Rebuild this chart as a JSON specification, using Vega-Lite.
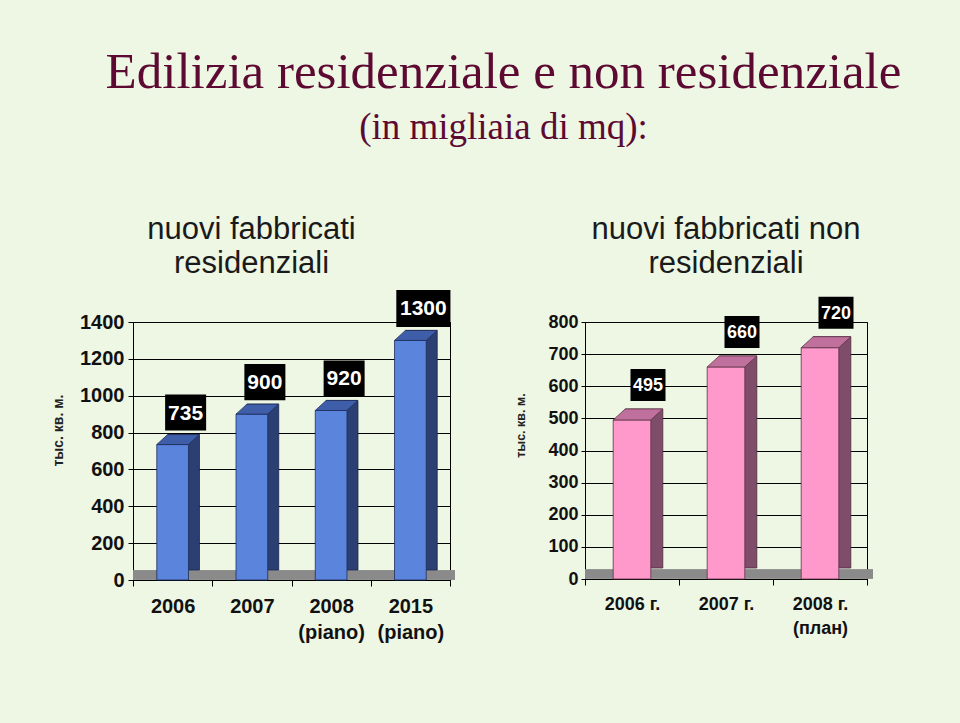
{
  "$schema": "https://vega.github.io/schema/vega-lite/v6.json",
  "background": "#eef6e4",
  "padding": {"left": 51, "top": 47, "right": 85, "bottom": 88},
  "title": {
    "text": "Edilizia residenziale e non residenziale",
    "subtitle": "(in migliaia di mq):",
    "font": "Liberation Serif",
    "fontSize": 51,
    "fontWeight": "normal",
    "color": "#5c0a32",
    "subtitleFont": "Liberation Serif",
    "subtitleFontSize": 37,
    "subtitleColor": "#5c0a32",
    "subtitlePadding": 11,
    "anchor": "middle",
    "dx": 39,
    "offset": 66
  },
  "spacing": 54,
  "hconcat": [
    {
      "width": 317,
      "height": 258,
      "title": {
        "text": ["nuovi fabbricati", "residenziali"],
        "font": "Liberation Sans",
        "fontSize": 31,
        "fontWeight": "normal",
        "color": "#1a1a1a",
        "lineHeight": 34,
        "anchor": "middle",
        "dx": -40,
        "offset": 10
      },
      "data": {
        "values": [
          {"anno": "2006", "valore": 735},
          {"anno": "2007", "valore": 900},
          {"anno": "2008|(piano)", "valore": 920},
          {"anno": "2015|(piano)", "valore": 1300}
        ]
      },
      "layer": [
        {
          "mark": {"type": "rule", "color": "#8a8a8a", "strokeWidth": 9, "yOffset": -5, "xOffset": 5},
          "encoding": {
            "y": {"datum": 0, "type": "quantitative", "scale": {"domain": [0, 1400], "nice": false},
              "axis": {"title": "тыс. кв. м.", "values": [0, 200, 400, 600, 800, 1000, 1200, 1400], "tickCount": 20, "format": "d", "labelOverlap": false, "labelFontSize": 20, "labelFontWeight": "bold", "labelPadding": 4, "tickSize": 5, "titleFontSize": 14, "titleFontWeight": "bold", "titleColor": "#222222", "titlePadding": 14, "titleY": 108, "grid": true, "gridColor": "#000000", "gridOpacity": 1, "gridWidth": 1}}
          }
        },
        {
          "mark": {"type": "bar", "width": {"band": 0.4}, "xOffset": 11, "yOffset": -10, "color": "#2c3f73", "stroke": "#17244a", "strokeWidth": 0.8},
          "encoding": {
            "x": {"field": "anno", "type": "nominal", "sort": null, "scale": {"paddingInner": 0, "paddingOuter": 0},
              "axis": {"title": null, "labelExpr": "split(datum.label, '|')", "labelAngle": 0, "labelFontSize": 20, "labelFontWeight": "bold", "labelLineHeight": 26, "labelPadding": 10, "tickBand": "extent", "tickSize": 6, "grid": false}},
            "y": {"field": "valore", "type": "quantitative", "scale": {"domain": [0, 1400], "nice": false},
              "axis": {"title": "тыс. кв. м.", "values": [0, 200, 400, 600, 800, 1000, 1200, 1400], "tickCount": 20, "format": "d", "labelOverlap": false, "labelFontSize": 20, "labelFontWeight": "bold", "labelPadding": 4, "tickSize": 5, "titleFontSize": 14, "titleFontWeight": "bold", "titleColor": "#222222", "titlePadding": 14, "titleY": 108, "grid": true, "gridColor": "#000000", "gridOpacity": 1, "gridWidth": 1}}
          }
        },
        {
          "mark": {"type": "bar", "width": {"band": 0.4}, "color": "#5b84dc", "stroke": "#1e2d5a", "strokeWidth": 0.8},
          "encoding": {
            "x": {"field": "anno", "type": "nominal", "sort": null},
            "y": {"field": "valore", "type": "quantitative"}
          }
        },
        {
          "mark": {"type": "point", "filled": true, "opacity": 1, "size": 2704, "shape": "M-0.61,0L0.61,0L1.03,-0.385L-0.19,-0.385Z", "color": "#3f5ea9", "stroke": "#1e2d5a", "strokeWidth": 0.8},
          "encoding": {
            "x": {"field": "anno", "type": "nominal", "sort": null},
            "y": {"field": "valore", "type": "quantitative"}
          }
        },
        {
          "mark": {"type": "point", "filled": true, "opacity": 1, "size": 1681, "color": "#000000", "xOffset": 13, "yOffset": -32},
          "encoding": {
            "x": {"field": "anno", "type": "nominal", "sort": null},
            "y": {"field": "valore", "type": "quantitative"},
            "shape": {"condition": {"test": "datum.valore >= 1000", "value": "M-1.32,-0.9L1.32,-0.9L1.32,0.9L-1.32,0.9Z"}, "value": "M-1,-0.88L1,-0.88L1,0.88L-1,0.88Z"}
          }
        },
        {
          "mark": {"type": "text", "color": "#ffffff", "font": "Liberation Sans", "fontSize": 21, "fontWeight": "bold", "align": "center", "baseline": "middle", "xOffset": 13, "yOffset": -31},
          "encoding": {
            "x": {"field": "anno", "type": "nominal", "sort": null},
            "y": {"field": "valore", "type": "quantitative"},
            "text": {"field": "valore", "type": "quantitative"}
          }
        }
      ]
    },
    {
      "width": 282,
      "height": 257,
      "title": {
        "text": ["nuovi fabbricati non", "residenziali"],
        "font": "Liberation Sans",
        "fontSize": 31,
        "fontWeight": "normal",
        "color": "#1a1a1a",
        "lineHeight": 34,
        "anchor": "middle",
        "offset": 17
      },
      "data": {
        "values": [
          {"anno": "2006 г.", "valore": 495},
          {"anno": "2007 г.", "valore": 660},
          {"anno": "2008 г.|(план)", "valore": 720}
        ]
      },
      "layer": [
        {
          "mark": {"type": "rule", "color": "#8a8a8a", "strokeWidth": 9, "yOffset": -5, "xOffset": 6},
          "encoding": {
            "y": {"datum": 0, "type": "quantitative", "scale": {"domain": [0, 800], "nice": false},
              "axis": {"title": "тыс. кв. м.", "values": [0, 100, 200, 300, 400, 500, 600, 700, 800], "tickCount": 20, "format": "d", "labelOverlap": false, "labelFontSize": 18, "labelFontWeight": "bold", "labelPadding": 3, "tickSize": 4, "titleFontSize": 12.5, "titleFontWeight": "bold", "titleColor": "#222222", "titlePadding": 20, "titleY": 103, "grid": true, "gridColor": "#000000", "gridOpacity": 1, "gridWidth": 1}}
          }
        },
        {
          "mark": {"type": "bar", "width": {"band": 0.4}, "xOffset": 12, "yOffset": -11, "color": "#7f4c69", "stroke": "#4a2a3c", "strokeWidth": 0.8},
          "encoding": {
            "x": {"field": "anno", "type": "nominal", "sort": null, "scale": {"paddingInner": 0, "paddingOuter": 0},
              "axis": {"title": null, "labelExpr": "split(datum.label, '|')", "labelAngle": 0, "labelFontSize": 18, "labelFontWeight": "bold", "labelLineHeight": 24, "labelPadding": 10, "tickBand": "extent", "tickSize": 6, "grid": false}},
            "y": {"field": "valore", "type": "quantitative", "scale": {"domain": [0, 800], "nice": false},
              "axis": {"title": "тыс. кв. м.", "values": [0, 100, 200, 300, 400, 500, 600, 700, 800], "tickCount": 20, "format": "d", "labelOverlap": false, "labelFontSize": 18, "labelFontWeight": "bold", "labelPadding": 3, "tickSize": 4, "titleFontSize": 12.5, "titleFontWeight": "bold", "titleColor": "#222222", "titlePadding": 20, "titleY": 103, "grid": true, "gridColor": "#000000", "gridOpacity": 1, "gridWidth": 1}}
          }
        },
        {
          "mark": {"type": "bar", "width": {"band": 0.4}, "color": "#ff99cc", "stroke": "#5a3346", "strokeWidth": 0.8},
          "encoding": {
            "x": {"field": "anno", "type": "nominal", "sort": null},
            "y": {"field": "valore", "type": "quantitative"}
          }
        },
        {
          "mark": {"type": "point", "filled": true, "opacity": 1, "size": 3600, "shape": "M-0.627,0L0.627,0L1.027,-0.367L-0.227,-0.367Z", "color": "#c0709c", "stroke": "#5a3346", "strokeWidth": 0.8},
          "encoding": {
            "x": {"field": "anno", "type": "nominal", "sort": null},
            "y": {"field": "valore", "type": "quantitative"}
          }
        },
        {
          "mark": {"type": "point", "filled": true, "opacity": 1, "size": 1225, "color": "#000000", "shape": "M-1,-0.914L1,-0.914L1,0.914L-1,0.914Z", "xOffset": 16, "yOffset": -35},
          "encoding": {
            "x": {"field": "anno", "type": "nominal", "sort": null},
            "y": {"field": "valore", "type": "quantitative"}
          }
        },
        {
          "mark": {"type": "text", "color": "#ffffff", "font": "Liberation Sans", "fontSize": 18, "fontWeight": "bold", "align": "center", "baseline": "middle", "xOffset": 16, "yOffset": -34},
          "encoding": {
            "x": {"field": "anno", "type": "nominal", "sort": null},
            "y": {"field": "valore", "type": "quantitative"},
            "text": {"field": "valore", "type": "quantitative"}
          }
        }
      ]
    }
  ],
  "config": {
    "view": {"stroke": "#000000", "strokeWidth": 1},
    "axis": {"labelFont": "Liberation Sans", "labelColor": "#111111", "titleFont": "Liberation Sans", "domainColor": "#000000", "tickColor": "#000000", "domainWidth": 1}
  }
}
